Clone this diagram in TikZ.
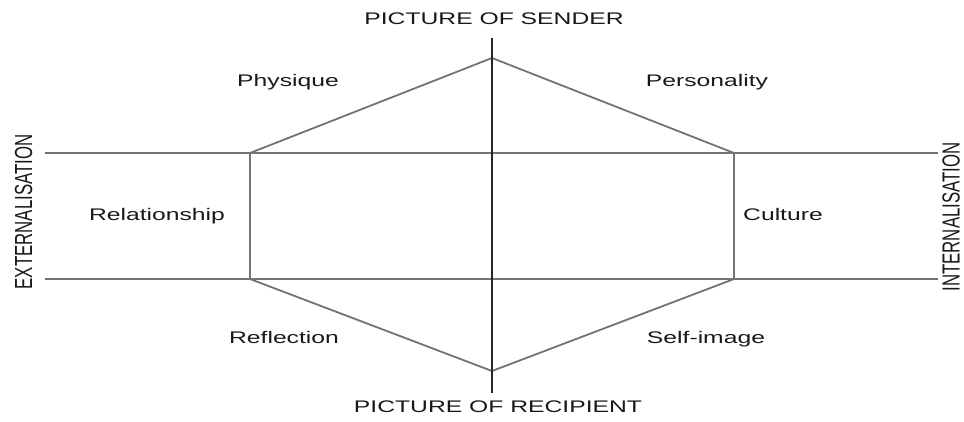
\documentclass[tikz,border=0pt]{standalone}
\usepackage{fontspec}
\setmainfont{Liberation Sans}
\begin{document}
\begin{tikzpicture}[x=1pt,y=-1pt,
  lbl/.style={font=\fontsize{16.8}{20}\selectfont, text=black!90, inner sep=0pt, xscale=1.47, anchor=base},
  vlbl/.style={font=\fontsize{16.8}{20}\selectfont, text=black!90, inner sep=0pt, xscale=1.47, rotate=90},
  hexline/.style={draw=black!55, line width=1.8pt},
  axisline/.style={draw=black!85, line width=1.8pt}]
\useasboundingbox (0,0) rectangle (964,421);
% coordinates
\coordinate (L1) at (45,153);
\coordinate (R1) at (938,153);
\coordinate (L2) at (45,279);
\coordinate (R2) at (938,279);
\coordinate (VT) at (492,38);
\coordinate (VB) at (492,393);
\coordinate (T) at (492,58);
\coordinate (UL) at (250,153);
\coordinate (UR) at (734,153);
\coordinate (LL) at (250,279);
\coordinate (LR) at (734,279);
\coordinate (B) at (492,371);
% lines
\draw[hexline] (L1) -- (R1);
\draw[hexline] (L2) -- (R2);
\draw[hexline, line join=miter] (UL) -- (T) -- (UR) -- (LR) -- (B) -- (LL) -- cycle;
\draw[axisline] (VT) -- (VB);
% labels
\node[lbl] (sender) at (494,24) {PICTURE OF SENDER};
\node[lbl] (recip) at (498,412) {PICTURE OF RECIPIENT};
\node[lbl] (phys) at (288,86) {Physique};
\node[lbl] (pers) at (707,86) {Personality};
\node[lbl] (rel) at (157,220) {Relationship};
\node[lbl] (cult) at (783,220) {Culture};
\node[lbl] (refl) at (284,343) {Reflection};
\node[lbl] (self) at (706,343) {Self-image};
\node[vlbl, anchor=base] (ext) at (32,212) {EXTERNALISATION};
\node[vlbl, anchor=north] (int) at (942,217) {INTERNALISATION};
\end{tikzpicture}
\end{document}
